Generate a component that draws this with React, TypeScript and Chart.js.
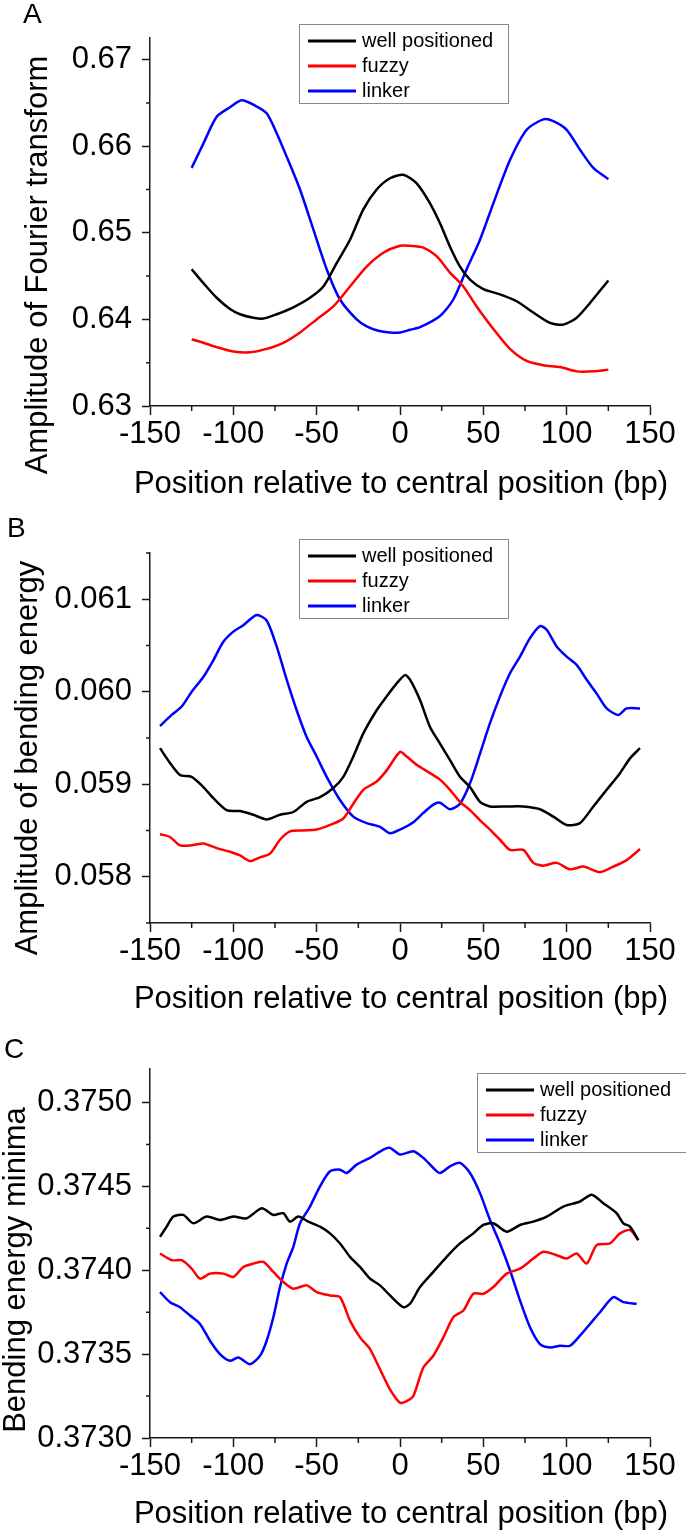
import React, { useEffect, useRef } from 'react';
import { Chart, registerables } from 'chart.js';

Chart.register(...registerables);

// ---- shared ----
const SERIES_LABELS = ['well positioned', 'fuzzy', 'linker'];
const SERIES_COLORS = ['#000000', '#ff0000', '#0000ff'];
const X_TITLE = 'Position relative to central position (bp)';
const X_MAJOR = [-150, -100, -50, 0, 50, 100, 150];
const X_MINOR = [-125, -75, -25, 25, 75, 125];

// ---- panel A: amplitude of Fourier transform ----
const A_X_WELL = [-125, -118, -110, -102, -96, -88, -82, -74, -64, -54, -46, -38, -30, -22, -14, -6, 2, 10, 18, 24, 30, 36, 42, 50, 60, 70, 80, 90, 98, 106, 114, 125];
const A_Y_WELL = [0.6458, 0.6442, 0.6425, 0.6412, 0.6406, 0.6402, 0.6401, 0.6406, 0.6414, 0.6425, 0.6438, 0.6465, 0.6492, 0.6527, 0.6550, 0.6563, 0.6567, 0.6557, 0.6534, 0.6511, 0.6484, 0.6461, 0.6446, 0.6435, 0.6429, 0.6421, 0.6408, 0.6396, 0.6394, 0.6402, 0.6419, 0.6445];
const A_X_FUZZY = [-125, -118, -110, -100, -90, -80, -70, -60, -50, -40, -30, -20, -10, 0, 6, 14, 22, 30, 38, 46, 56, 66, 76, 86, 96, 106, 116, 125];
const A_Y_FUZZY = [0.6377, 0.6373, 0.6368, 0.6363, 0.6362, 0.6366, 0.6373, 0.6385, 0.6400, 0.6415, 0.6438, 0.6461, 0.6477, 0.6485, 0.6485, 0.6483, 0.6473, 0.6454, 0.6438, 0.6415, 0.6389, 0.6366, 0.6352, 0.6347, 0.6345, 0.6340, 0.6340, 0.6342];
const A_X_LINKER = [-125, -118, -110, -102, -95, -87, -80, -74, -68, -60, -52, -44, -36, -26, -20, -13, -6, 0, 6, 12, 24, 32, 40, 48, 56, 66, 76, 86, 92, 100, 108, 116, 125];
const A_Y_LINKER = [0.6575, 0.6603, 0.6634, 0.6645, 0.6653, 0.6647, 0.6638, 0.6615, 0.6588, 0.6550, 0.6504, 0.6458, 0.6423, 0.6400, 0.6392, 0.6387, 0.6385, 0.6385, 0.6388, 0.6391, 0.6404, 0.6423, 0.6458, 0.6492, 0.6534, 0.6584, 0.6619, 0.6631, 0.6629, 0.6619, 0.6596, 0.6575, 0.6562];
const A_Y_MAJOR = [0.63, 0.64, 0.65, 0.66, 0.67];
const A_Y_MINOR = [0.635, 0.645, 0.655, 0.665];

// ---- panel B: amplitude of bending energy ----
const B_X_WELL = [-144, -138, -132, -125, -118, -112, -104, -96, -88, -80, -72, -64, -56, -48, -40, -34, -28, -22, -14, -8, -2, 3, 6, 12, 18, 24, 30, 36, 42, 48, 54, 64, 74, 84, 92, 100, 108, 116, 124, 132, 138, 144];
const B_Y_WELL = [0.05939, 0.05923, 0.05910, 0.05908, 0.05897, 0.05885, 0.05872, 0.05871, 0.05867, 0.05862, 0.05867, 0.05870, 0.05881, 0.05886, 0.05896, 0.05908, 0.05930, 0.05955, 0.05980, 0.05995, 0.06009, 0.06018, 0.06013, 0.05991, 0.05962, 0.05944, 0.05926, 0.05908, 0.05897, 0.05881, 0.05876, 0.05876, 0.05876, 0.05873, 0.05865, 0.05856, 0.05858, 0.05876, 0.05894, 0.05912, 0.05928, 0.05939];
const B_X_FUZZY = [-144, -138, -132, -125, -118, -110, -102, -96, -90, -84, -78, -72, -66, -58, -50, -42, -34, -28, -22, -14, -8, 0, 4, 10, 18, 24, 30, 36, 42, 48, 54, 60, 66, 74, 80, 86, 94, 102, 110, 120, 128, 136, 144];
const B_Y_FUZZY = [0.05846, 0.05843, 0.05834, 0.05834, 0.05836, 0.05831, 0.05827, 0.05823, 0.05817, 0.05821, 0.05825, 0.05840, 0.05849, 0.05850, 0.05851, 0.05856, 0.05863, 0.05879, 0.05894, 0.05903, 0.05915, 0.05935, 0.05930, 0.05921, 0.05912, 0.05905, 0.05894, 0.05881, 0.05872, 0.05861, 0.05851, 0.05840, 0.05829, 0.05829, 0.05815, 0.05812, 0.05815, 0.05808, 0.05811, 0.05805, 0.05811, 0.05818, 0.05830];
const B_X_LINKER = [-144, -137, -131, -125, -118, -112, -106, -100, -94, -86, -80, -74, -68, -62, -56, -50, -44, -36, -28, -20, -12, -6, 0, 8, 14, 20, 24, 30, 36, 42, 48, 54, 60, 66, 72, 78, 84, 88, 94, 100, 106, 112, 118, 124, 131, 136, 144];
const B_Y_LINKER = [0.05963, 0.05975, 0.05984, 0.06000, 0.06016, 0.06034, 0.06054, 0.06065, 0.06072, 0.06083, 0.06077, 0.06049, 0.06013, 0.05980, 0.05951, 0.05930, 0.05908, 0.05883, 0.05865, 0.05858, 0.05854, 0.05847, 0.05851, 0.05859, 0.05869, 0.05878, 0.05880, 0.05873, 0.05879, 0.05901, 0.05933, 0.05966, 0.05995, 0.06020, 0.06038, 0.06058, 0.06071, 0.06067, 0.06049, 0.06038, 0.06029, 0.06013, 0.05998, 0.05982, 0.05975, 0.05982, 0.05982];
const B_Y_MAJOR = [0.058, 0.059, 0.060, 0.061];
const B_Y_MINOR = [0.0575, 0.0585, 0.0595, 0.0605, 0.0615];

// ---- panel C: bending energy minima ----
const C_X_WELL = [-144, -140, -136, -130, -124, -116, -108, -100, -92, -83, -76, -70, -66, -61, -55, -48, -42, -36, -30, -24, -18, -12, -6, 2, 6, 12, 20, 28, 36, 44, 50, 56, 64, 72, 80, 88, 98, 108, 115, 122, 130, 134, 138, 143];
const C_Y_WELL = [0.37420, 0.37426, 0.37432, 0.37433, 0.37428, 0.37432, 0.37430, 0.37432, 0.37431, 0.37437, 0.37433, 0.37434, 0.37429, 0.37432, 0.37429, 0.37426, 0.37422, 0.37416, 0.37408, 0.37402, 0.37395, 0.37391, 0.37385, 0.37378, 0.37380, 0.37390, 0.37399, 0.37408, 0.37416, 0.37422, 0.37427, 0.37428, 0.37423, 0.37427, 0.37429, 0.37432, 0.37438, 0.37441, 0.37445, 0.37440, 0.37434, 0.37428, 0.37426, 0.37418];
const C_X_FUZZY = [-144, -137, -131, -125, -120, -114, -106, -100, -94, -88, -82, -76, -70, -64, -56, -50, -42, -36, -30, -24, -18, -12, -6, 0, 4, 8, 14, 20, 26, 32, 38, 44, 50, 56, 64, 72, 80, 86, 94, 100, 106, 112, 118, 126, 132, 138, 143];
const C_Y_FUZZY = [0.37410, 0.37406, 0.37406, 0.37401, 0.37395, 0.37398, 0.37398, 0.37396, 0.37402, 0.37404, 0.37405, 0.37399, 0.37393, 0.37389, 0.37391, 0.37387, 0.37385, 0.37384, 0.37370, 0.37360, 0.37353, 0.37341, 0.37329, 0.37321, 0.37322, 0.37325, 0.37342, 0.37349, 0.37360, 0.37372, 0.37376, 0.37386, 0.37386, 0.37390, 0.37398, 0.37401, 0.37407, 0.37411, 0.37409, 0.37407, 0.37410, 0.37404, 0.37415, 0.37416, 0.37422, 0.37424, 0.37418];
const C_X_LINKER = [-144, -138, -132, -126, -120, -114, -108, -102, -97, -90, -84, -80, -76, -72, -68, -64, -60, -54, -48, -42, -36, -32, -26, -18, -10, -6, 0, 8, 14, 20, 24, 30, 36, 42, 48, 54, 60, 66, 72, 78, 84, 90, 96, 102, 108, 114, 120, 128, 134, 142];
const C_Y_LINKER = [0.37387, 0.37381, 0.37378, 0.37373, 0.37368, 0.37358, 0.37350, 0.37346, 0.37348, 0.37344, 0.37349, 0.37358, 0.37372, 0.37390, 0.37404, 0.37414, 0.37428, 0.37438, 0.37450, 0.37459, 0.37460, 0.37458, 0.37463, 0.37467, 0.37472, 0.37473, 0.37469, 0.37471, 0.37467, 0.37461, 0.37458, 0.37462, 0.37464, 0.37458, 0.37446, 0.37430, 0.37416, 0.37400, 0.37382, 0.37366, 0.37356, 0.37354, 0.37355, 0.37355, 0.37361, 0.37368, 0.37375, 0.37384, 0.37381, 0.37380];
const C_Y_MAJOR = [0.373, 0.3735, 0.374, 0.3745, 0.375];
const C_Y_MINOR = [0.37325, 0.37375, 0.37425, 0.37475];

const FONT = '"Liberation Sans", Arial, Helvetica, sans-serif';
const AXIS_COLOR = '#1a1a1a';

interface PanelSpec {
  letter: string;
  yTitle: string;
  xs: number[][];
  ys: number[][];
  yMin: number;
  yMax: number;
  yMajor: number[];
  yMinor: number[];
  decimals: number;
  height: number;
  axisTop: number;
  axisBottom: number;
  letterPos: [number, number];
  yTitlePos: [number, number];
  xTitleY: number;
  legendPos: [number, number];
}

const PANELS: PanelSpec[] = [
  {
    letter: 'A', yTitle: 'Amplitude of Fourier transform',
    xs: [A_X_WELL, A_X_FUZZY, A_X_LINKER], ys: [A_Y_WELL, A_Y_FUZZY, A_Y_LINKER],
    yMin: 0.63, yMax: 0.6725, yMajor: A_Y_MAJOR, yMinor: A_Y_MINOR, decimals: 2,
    height: 500, axisTop: 38, axisBottom: 406,
    letterPos: [23, 23], yTitlePos: [47, 265], xTitleY: 493, legendPos: [299, 24],
  },
  {
    letter: 'B', yTitle: 'Amplitude of bending energy',
    xs: [B_X_WELL, B_X_FUZZY, B_X_LINKER], ys: [B_Y_WELL, B_Y_FUZZY, B_Y_LINKER],
    yMin: 0.0575, yMax: 0.0615, yMajor: B_Y_MAJOR, yMinor: B_Y_MINOR, decimals: 3,
    height: 520, axisTop: 53, axisBottom: 423,
    letterPos: [7, 37], yTitlePos: [37, 258], xTitleY: 508, legendPos: [299, 39],
  },
  {
    letter: 'C', yTitle: 'Bending energy minima',
    xs: [C_X_WELL, C_X_FUZZY, C_X_LINKER], ys: [C_Y_WELL, C_Y_FUZZY, C_Y_LINKER],
    yMin: 0.373, yMax: 0.3752, yMajor: C_Y_MAJOR, yMinor: C_Y_MINOR, decimals: 4,
    height: 513, axisTop: 49, axisBottom: 418,
    letterPos: [4, 38], yTitlePos: [25, 250], xTitleY: 503, legendPos: [477, 53],
  },
];

// minor ticks, panel letter, axis titles and the boxed legend
const decorPlugin = {
  id: 'decor',
  afterDraw(chart: any, _args: any, opts: any) {
    const { ctx, chartArea } = chart;
    const xs = chart.scales.x;
    const ys = chart.scales.y;
    ctx.save();

    ctx.strokeStyle = AXIS_COLOR;
    ctx.lineWidth = 1.5;
    ctx.beginPath();
    X_MINOR.forEach((v) => {
      const p = xs.getPixelForValue(v);
      ctx.moveTo(p, chartArea.bottom);
      ctx.lineTo(p, chartArea.bottom + 5);
    });
    opts.yMinor.forEach((v: number) => {
      const p = ys.getPixelForValue(v);
      ctx.moveTo(chartArea.left, p);
      ctx.lineTo(chartArea.left - 4, p);
    });
    ctx.stroke();

    ctx.fillStyle = '#000';
    ctx.textBaseline = 'alphabetic';
    ctx.font = `28px ${FONT}`;
    ctx.textAlign = 'left';
    ctx.fillText(opts.letter, opts.letterPos[0], opts.letterPos[1]);

    ctx.font = `31px ${FONT}`;
    ctx.textAlign = 'center';
    ctx.fillText(X_TITLE, (chartArea.left + chartArea.right) / 2 + 1, opts.xTitleY);
    ctx.save();
    ctx.translate(opts.yTitlePos[0], opts.yTitlePos[1]);
    ctx.rotate(-Math.PI / 2);
    ctx.fillText(opts.yTitle, 0, 0);
    ctx.restore();

    const [lx, ly] = opts.legendPos;
    ctx.fillStyle = '#fff';
    ctx.fillRect(lx, ly, 209, 79);
    ctx.strokeStyle = '#8a8a8a';
    ctx.lineWidth = 1;
    ctx.strokeRect(lx + 0.5, ly + 0.5, 209, 79);
    ctx.font = `20px ${FONT}`;
    ctx.textAlign = 'left';
    ctx.textBaseline = 'middle';
    chart.data.datasets.forEach((ds: any, i: number) => {
      const y = ly + 17 + i * 25;
      ctx.strokeStyle = ds.borderColor;
      ctx.lineWidth = 3;
      ctx.beginPath();
      ctx.moveTo(lx + 9, y);
      ctx.lineTo(lx + 57, y);
      ctx.stroke();
      ctx.fillStyle = '#000';
      ctx.fillText(ds.label, lx + 63, y);
    });
    ctx.restore();
  },
};

const Panel: React.FC<{ spec: PanelSpec }> = ({ spec }) => {
  const canvasRef = useRef<HTMLCanvasElement>(null);

  useEffect(() => {
    if (!canvasRef.current) return;
    const chart = new Chart(canvasRef.current, {
      type: 'line',
      data: {
        datasets: SERIES_LABELS.map((label, i) => ({
          label,
          data: spec.xs[i].map((x, j) => ({ x, y: spec.ys[i][j] })),
          borderColor: SERIES_COLORS[i],
          borderWidth: 2.5,
          pointRadius: 0,
          tension: 0.25,
          fill: false,
        })),
      },
      options: {
        responsive: false,
        animation: false,
        devicePixelRatio: 1,
        layout: { padding: { top: spec.axisTop, right: 36, bottom: 0, left: 0 } },
        plugins: {
          legend: { display: false },
          tooltip: { enabled: false },
          decor: { ...spec },
        } as any,
        scales: {
          x: {
            type: 'linear',
            min: -150,
            max: 150,
            afterBuildTicks: (s: any) => { s.ticks = X_MAJOR.map((value) => ({ value })); },
            afterFit: (s: any) => { s.height = spec.height - spec.axisBottom; },
            ticks: {
              color: '#000',
              padding: 1,
              maxRotation: 0,
              autoSkip: false,
              font: { family: FONT, size: 31 },
              callback: (v: any) => String(v),
            },
            grid: { drawOnChartArea: false, drawTicks: true, tickLength: 9, tickWidth: 1.5, tickColor: AXIS_COLOR },
            border: { display: true, color: AXIS_COLOR, width: 1.5 },
          },
          y: {
            type: 'linear',
            min: spec.yMin,
            max: spec.yMax,
            afterBuildTicks: (s: any) => { s.ticks = spec.yMajor.map((value) => ({ value })); },
            afterFit: (s: any) => { s.width = 150; },
            ticks: {
              color: '#000',
              padding: 10,
              autoSkip: false,
              font: { family: FONT, size: 31 },
              callback: (v: any) => Number(v).toFixed(spec.decimals),
            },
            grid: { drawOnChartArea: false, drawTicks: true, tickLength: 8, tickWidth: 1.5, tickColor: AXIS_COLOR },
            border: { display: true, color: AXIS_COLOR, width: 1.5 },
          },
        },
      },
      plugins: [decorPlugin],
    });
    return () => chart.destroy();
  }, [spec]);

  return (
    <canvas
      ref={canvasRef}
      width={686}
      height={spec.height}
      style={{ display: 'block', width: 686, height: spec.height }}
    />
  );
};

const App: React.FC = () => (
  <div style={{ position: 'absolute', left: 0, top: 0, width: 686, height: 1533, background: '#fff' }}>
    {PANELS.map((p) => (
      <Panel key={p.letter} spec={p} />
    ))}
  </div>
);

export default App;
